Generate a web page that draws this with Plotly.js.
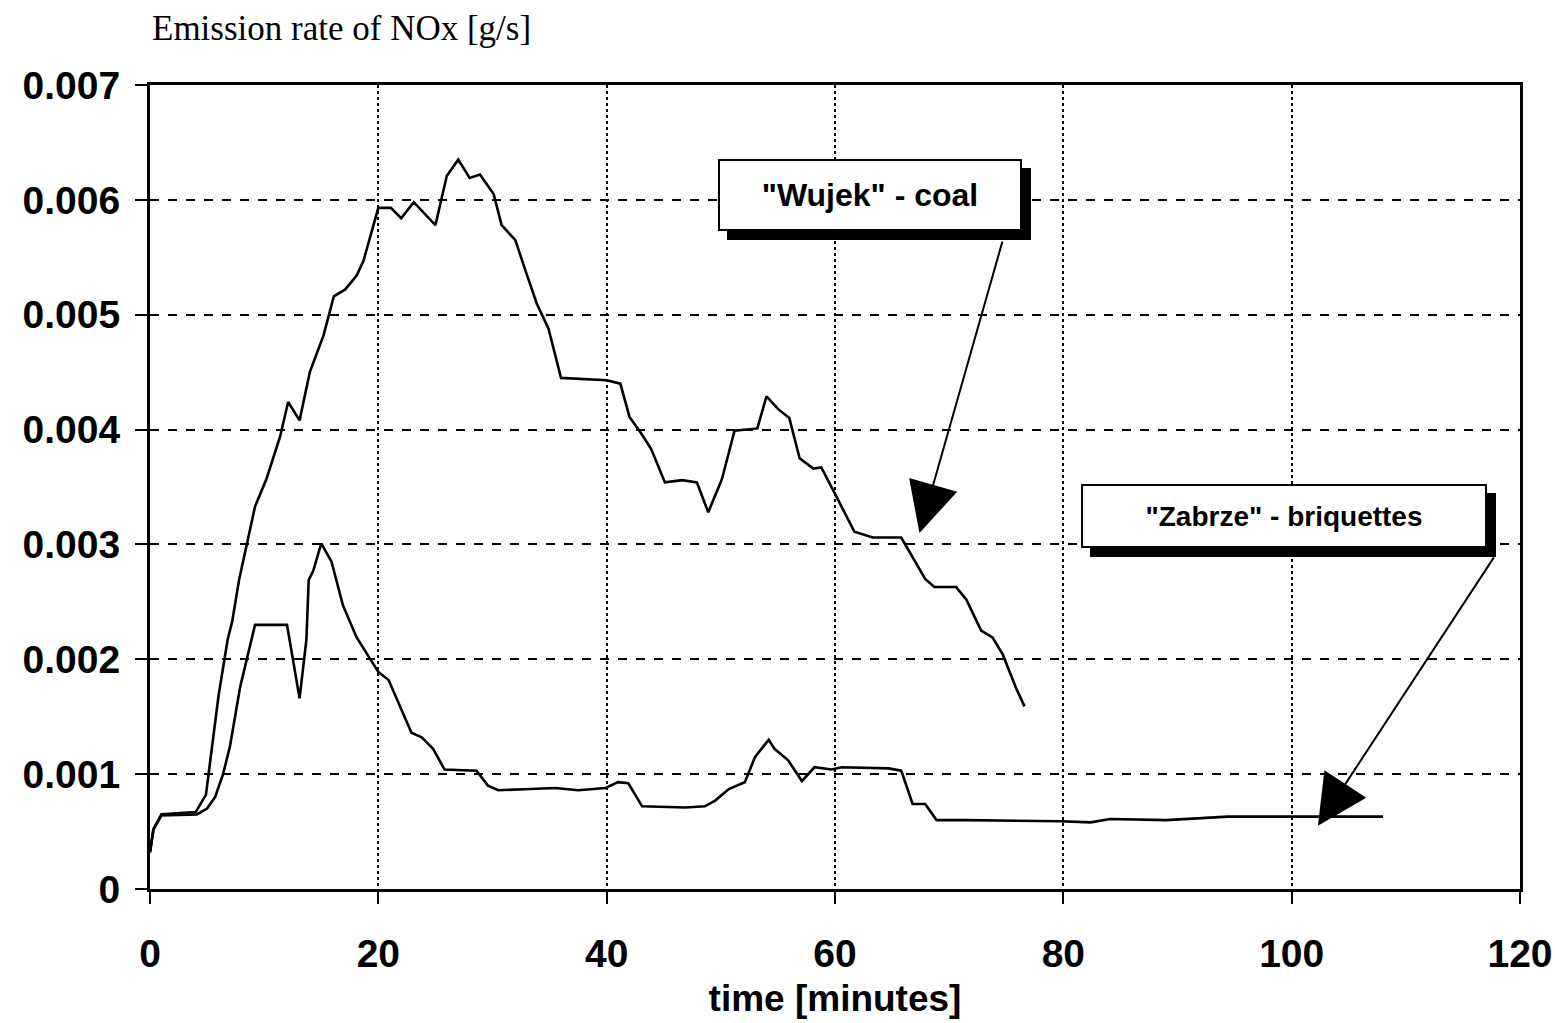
<!DOCTYPE html>
<html><head><meta charset="utf-8">
<script src="https://cdn.plot.ly/plotly-3.0.1.min.js"></script>
<style>html,body{margin:0;padding:0;background:#fff}#chart{width:1555px;height:1023px}</style>
</head><body><div id="chart"></div>
<script>
// ---- data ----
const wujekTime = [0,0.3,1.0,4.0,4.9,5.3,6.0,6.8,7.2,7.8,8.7,9.2,10.2,11.4,12.1,13.1,14.0,15.2,16.1,17.1,18.1,18.7,20.0,21.1,22.0,23.1,25.0,26.0,27.0,28.0,28.9,30.1,30.8,32.0,32.8,33.9,34.9,36.0,40.0,41.2,42.0,43.0,43.9,45.1,46.6,47.9,48.9,50.1,51.2,53.2,54.0,55.0,56.0,56.9,58.1,58.8,59.8,61.7,63.3,65.8,67.9,68.7,70.6,71.5,72.8,73.8,74.7,75.9,76.6];
const wujekNOx = [0.00032,0.00052,0.00065,0.00067,0.00082,0.00112,0.00168,0.00217,0.00233,0.00269,0.00309,0.00333,0.00357,0.00394,0.00424,0.00408,0.0045,0.00482,0.00516,0.00522,0.00534,0.00547,0.00593,0.00593,0.00584,0.00598,0.00578,0.00621,0.00635,0.00619,0.00622,0.00605,0.00578,0.00565,0.00541,0.00509,0.00488,0.00445,0.00443,0.0044,0.00411,0.00397,0.00383,0.00354,0.00356,0.00354,0.00328,0.00357,0.00399,0.00401,0.00429,0.00418,0.0041,0.00375,0.00366,0.00367,0.00348,0.00311,0.00306,0.00306,0.0027,0.00263,0.00263,0.00252,0.00225,0.00219,0.00204,0.00174,0.00159];

const zabrzeTime = [0,0.3,1.0,4.1,5.0,5.7,6.4,7.0,7.9,8.5,9.2,12.0,12.6,13.1,13.7,13.9,14.3,15.0,15.9,16.9,18.1,19.3,20.0,20.9,21.7,22.9,23.8,24.8,25.8,28.6,29.6,30.5,33.3,35.5,37.5,39.9,41.0,41.9,43.1,46.9,48.6,49.5,50.7,52.1,53.0,54.2,54.7,55.9,57.1,58.2,59.7,60.6,64.7,65.8,66.8,67.9,68.9,71.5,79.7,82.4,84.1,89.0,94.4,106.2,108.0];
const zabrzeNOx = [0.00032,0.00052,0.00064,0.00065,0.0007,0.0008,0.001,0.00124,0.00176,0.002,0.0023,0.0023,0.00197,0.00166,0.00217,0.00269,0.00277,0.00301,0.00285,0.00247,0.00219,0.002,0.00189,0.00182,0.00164,0.00136,0.00132,0.00122,0.00104,0.00103,0.0009,0.00086,0.00087,0.00088,0.00086,0.00088,0.00093,0.00092,0.00072,0.00071,0.00072,0.00077,0.00087,0.00093,0.00115,0.0013,0.00122,0.00112,0.00094,0.00106,0.00104,0.00106,0.00105,0.00103,0.00074,0.00074,0.0006,0.0006,0.00059,0.00058,0.00061,0.0006,0.00063,0.00063,0.00063];

const seriesNames = ['"Wujek" - coal', '"Zabrze" - briquettes'];
const xTicks = [0,20,40,60,80,100,120];
const yTicks = [0,0.001,0.002,0.003,0.004,0.005,0.006,0.007];
const yTickText = ['0','0.001','0.002','0.003','0.004','0.005','0.006','0.007'];
const yTitle = 'Emission rate of NOx [g/s]';
const xTitle = 'time [minutes]';

// label / arrow anchors (data units)
const wujekLabel = {x: 63.1, y: 0.00604, tipX: 67.4, tipY: 0.0031, tailX: 74.7, tailY: 0.00565};
const zabrzeLabel = {x: 99.3, y: 0.00325, tipX: 102.3, tipY: 0.00055, tailX: 117.8, tailY: 0.0029};

const SANS = 'Liberation Sans, Arial, sans-serif';
const SERIF = 'Liberation Serif, Times New Roman, serif';

const traces = [
  {x: wujekTime, y: wujekNOx, name: seriesNames[0], mode: 'lines', line: {color: '#000', width: 2.6}},
  {x: zabrzeTime, y: zabrzeNOx, name: seriesNames[1], mode: 'lines', line: {color: '#000', width: 2.6}}
];

function labelBox(lbl, text, size, w, h) {
  const common = {x: lbl.x, y: lbl.y, xref: 'x', yref: 'y', showarrow: false,
    font: {family: SANS, size: size, color: '#000', weight: 'bold'}, width: w, height: h,
    borderpad: 1, borderwidth: 2, bordercolor: '#000'};
  return [
    Object.assign({}, common, {text: ' ', bgcolor: '#000', xshift: 9, yshift: -9}),
    Object.assign({}, common, {text: text, bgcolor: '#fff'})
  ];
}
function arrow(lbl) {
  return {x: lbl.tipX, y: lbl.tipY, xref: 'x', yref: 'y', ax: lbl.tailX, ay: lbl.tailY,
    axref: 'x', ayref: 'y', text: '', showarrow: true, arrowhead: 2, arrowsize: 5,
    arrowwidth: 2, arrowcolor: '#000'};
}

const layout = {
  width: 1555, height: 1023,
  margin: {l: 150, r: 35, t: 85, b: 134},
  paper_bgcolor: '#fff', plot_bgcolor: '#fff',
  showlegend: false,
  xaxis: {
    range: [0, 120], tickvals: xTicks, ticktext: xTicks.map(String),
    showgrid: true, gridcolor: '#000', gridwidth: 2, griddash: 'dot',
    showline: true, linecolor: '#000', linewidth: 3, mirror: true,
    ticks: 'outside', ticklen: 12, tickwidth: 2, tickcolor: '#000',
    zeroline: false, ticklabelstandoff: 16,
    tickfont: {family: SANS, size: 39, color: '#000', weight: 'bold'},
    title: {text: xTitle, font: {family: SANS, size: 37, color: '#000', weight: 'bold'}, standoff: 12}
  },
  yaxis: {
    range: [0, 0.007], tickvals: yTicks, ticktext: yTickText,
    showgrid: true, gridcolor: '#000', gridwidth: 2, griddash: 'dash',
    showline: true, linecolor: '#000', linewidth: 3, mirror: true,
    ticks: 'outside', ticklen: 12, tickwidth: 2, tickcolor: '#000',
    zeroline: false, ticklabelstandoff: 7,
    tickfont: {family: SANS, size: 39, color: '#000', weight: 'bold'}
  },
  annotations: [
    {xref: 'paper', yref: 'paper', x: 0, y: 1.07, xanchor: 'left', yanchor: 'middle',
     text: yTitle, showarrow: false, font: {family: SERIF, size: 35, color: '#000'}},
    ...labelBox(wujekLabel, seriesNames[0], 32, 298, 66),
    ...labelBox(zabrzeLabel, seriesNames[1], 28, 400, 58),
    arrow(wujekLabel),
    arrow(zabrzeLabel)
  ]
};

Plotly.newPlot('chart', traces, layout, {staticPlot: true, displayModeBar: false});
</script>
</body></html>
